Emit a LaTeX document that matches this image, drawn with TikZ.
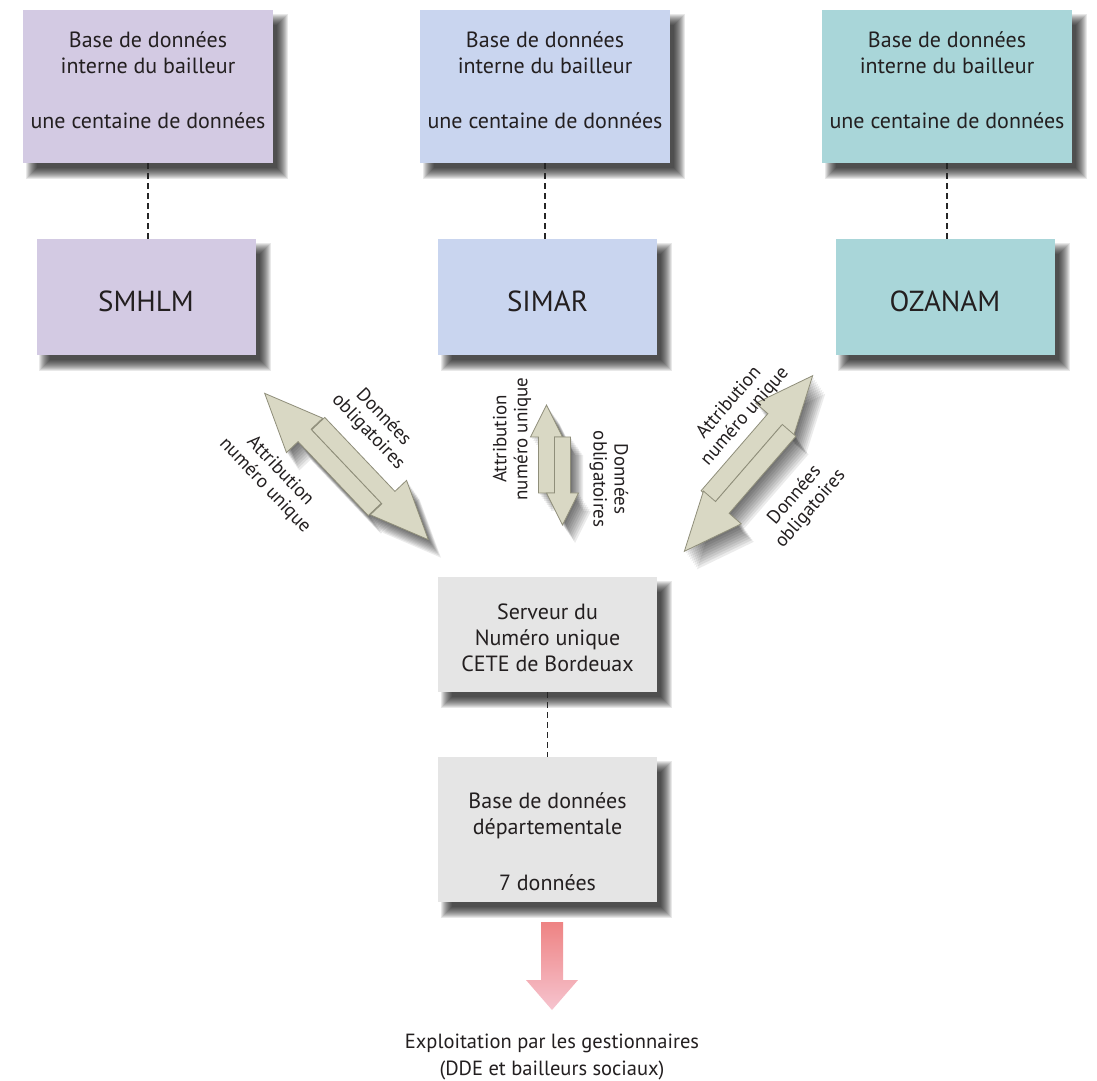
\documentclass[tikz,border=0pt]{standalone}
\usepackage{fontspec}
\setmainfont{PT Sans}
\usetikzlibrary{calc}
\pgfdeclarelayer{background}
\pgfsetlayers{background,main}
\definecolor{cpurple}{HTML}{D3CAE3}
\definecolor{cblue}{HTML}{C9D5EF}
\definecolor{cteal}{HTML}{A9D6D9}
\definecolor{cgray}{HTML}{E5E5E5}
\definecolor{carrow}{HTML}{D9D8C4}
\definecolor{carrowline}{HTML}{8F8E7A}
\definecolor{ctext}{HTML}{231F20}
\definecolor{pinkA}{HTML}{EE8383}
\definecolor{pinkB}{HTML}{F6C4CF}
\newcommand\boxshadow[1]{%
  \foreach \r in {-5,...,6}{%
    \fill[black,opacity=0.09] ($(#1.south west)+(9-\r,-10-\r)$) rectangle ($(#1.north east)+(9+\r,-10+\r)$);}}
\newcommand\dualarrow[8]{%
  \foreach \s in {2,4,...,18}{%
    \begin{scope}[shift={(#1+0.7*\s,#2-\s)},rotate=#3]
      \fill[black,opacity=0.08] (-#4/2,-#5/2) -- (-#4/2+#7,-#5/2+#6) -- (-#4/2+#7,0) -- (-#4/2+#8,0) -- (-#4/2+#8,-#5) -- (-#4/2+#7,-#5) -- (-#4/2+#7,-#5/2-#6) -- cycle;
      \fill[black,opacity=0.08] (#4/2,#5/2) -- (#4/2-#7,#5/2-#6) -- (#4/2-#7,0) -- (#4/2-#8,0) -- (#4/2-#8,#5) -- (#4/2-#7,#5) -- (#4/2-#7,#5/2+#6) -- cycle;
    \end{scope}}%
  \begin{scope}[shift={(#1,#2)},rotate=#3]
    \filldraw[arrowsty] (-#4/2,-#5/2) -- (-#4/2+#7,-#5/2+#6) -- (-#4/2+#7,0) -- (-#4/2+#8,0) -- (-#4/2+#8,-#5) -- (-#4/2+#7,-#5) -- (-#4/2+#7,-#5/2-#6) -- cycle;
    \filldraw[arrowsty] (#4/2,#5/2) -- (#4/2-#7,#5/2-#6) -- (#4/2-#7,0) -- (#4/2-#8,0) -- (#4/2-#8,#5) -- (#4/2-#7,#5) -- (#4/2-#7,#5/2+#6) -- cycle;
  \end{scope}}
\begin{document}
\begin{tikzpicture}[x=1pt,y=1pt,
  every node/.style={text=ctext},
  topbox/.style={inner sep=0, minimum width=250pt, minimum height=153pt, align=center, font=\fontsize{22}{25.5}\selectfont},
  midbox/.style={inner sep=0, minimum width=219pt, minimum height=116pt, align=center, font=\fontsize{29}{34}\selectfont},
  graybox/.style={inner sep=0, minimum width=219pt, fill=cgray, align=center, font=\fontsize{22}{26}\selectfont},
  arrowsty/.style={fill=carrow, draw=carrowline, line width=0.8pt, line join=miter},
  lbl/.style={inner sep=0, align=center, font=\fontsize{19}{21}\selectfont},
  dashline/.style={draw=black!85, line width=1.3pt, dash pattern=on 6pt off 4pt}]
\useasboundingbox (0,0) rectangle (1097,1080);

% top boxes
\node[topbox, fill=cpurple] (b1) at (148,993.5) {Base de données\\interne du bailleur\\[30pt]une centaine de données\rule[-12pt]{0pt}{12pt}};
\node[topbox, fill=cblue] (b2) at (545,993.5) {Base de données\\interne du bailleur\\[30pt]une centaine de données\rule[-12pt]{0pt}{12pt}};
\node[topbox, fill=cteal] (b3) at (947,993.5) {Base de données\\interne du bailleur\\[30pt]une centaine de données\rule[-12pt]{0pt}{12pt}};

% middle boxes
\node[midbox, fill=cpurple] (smhlm) at (146,783) {\rule{0pt}{29pt}SMHLM};
\node[midbox, fill=cblue] (simar) at (547.5,783) {\rule{0pt}{29pt}SIMAR};
\node[midbox, fill=cteal] (ozanam) at (945,783) {\rule{0pt}{29pt}OZANAM};

% server and departmental boxes
\node[graybox, minimum height=115pt] (server) at (547.5,445.5) {\rule{0pt}{22pt}Serveur du\\Numéro unique\\CETE de Bordeuax};
\node[graybox, minimum height=145pt] (dept) at (547.5,250.5) {\rule{0pt}{41pt}Base de données\\départementale\\[30pt]7 données};

\begin{pgfonlayer}{background}
  \fill[white] (0,0) rectangle (1097,1080);
  \boxshadow{b1}\boxshadow{b2}\boxshadow{b3}
  \boxshadow{smhlm}\boxshadow{simar}\boxshadow{ozanam}
  \boxshadow{server}\boxshadow{dept}
\end{pgfonlayer}

% dashed connectors
\draw[dashline] (b1.south) -- (b1.south |- smhlm.north);
\draw[dashline] (b2.south) -- (b2.south |- simar.north);
\draw[dashline] (b3.south) -- (b3.south |- ozanam.north);
\draw[dashline] (server.south) -- (dept.north);

% double arrows
\dualarrow{346.5}{613.5}{-46.5}{218.8}{18}{25}{58}{160}
\dualarrow{554.5}{615}{-90}{120}{16}{16}{32}{88}
\dualarrow{748.5}{616.5}{-130.9}{216.7}{18}{25}{58}{160}

% arrow labels
\node[lbl, rotate=-46.5] (l1d) at (375.6,655.4) {Données\\obligatoires};
\node[lbl, rotate=-46.5] (l1a) at (272.4,601.6) {Attribution\\numéro unique};
\node[lbl, rotate=90] (l2a) at (512,641) {Attribution\\numéro unique};
\node[lbl, rotate=-90] (l2d) at (609,601) {Données\\obligatoires};
\node[lbl, rotate=49.1] (l3a) at (737.2,670.3) {Attribution\\numéro unique};
\node[lbl, rotate=49.1] (l3d) at (802.8,577.7) {Données\\obligatoires};

% pink arrow
\shade[top color=pinkA, bottom color=pinkB] (541,158) -- (563,158) -- (563,100) -- (578,100) -- (552,70) -- (526,100) -- (541,100) -- cycle;

% bottom text
\node[anchor=north, inner sep=0, align=center, font=\fontsize{20.5}{27}\selectfont] (expl) at (552,46) {Exploitation par les gestionnaires\\(DDE et bailleurs sociaux)};
\end{tikzpicture}
\end{document}
